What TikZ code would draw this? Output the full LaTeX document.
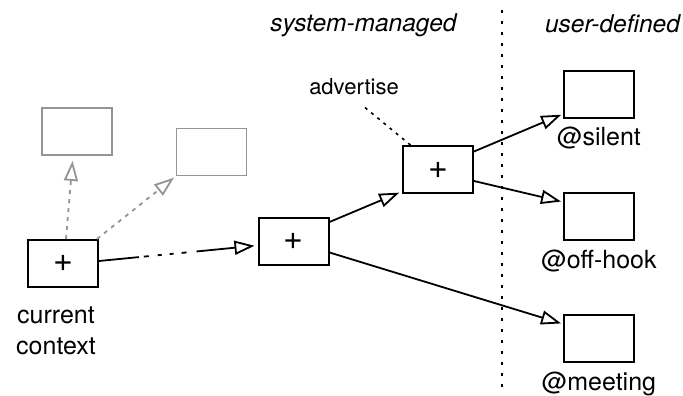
\documentclass[tikz,border=0pt]{standalone}
\usepackage{fontspec}
\setmainfont{TeX Gyre Heros}
\usetikzlibrary{positioning,arrows.meta}
\definecolor{ghost}{gray}{0.58}

\begin{document}
\begin{tikzpicture}
    [x=1pt, y=1pt, font=\fontsize{25}{31}\selectfont,
    ctx/.style={draw=black, line width=2pt, minimum width=70pt,
    minimum height=47pt, inner sep=0pt, font=\fontsize{34}{36}\selectfont},
    ghostctx/.style={ctx, draw=ghost, line width=1.8pt},
    tag/.style={inner sep=0pt},
    realm/.style={inner sep=0pt, font=\fontsize{24.5}{30}\selectfont\itshape},
    hint/.style={draw=black, line width=1.6pt, dash pattern=on 3pt off 5pt},
    link/.style={draw=black, line width=1.8pt,
    -{Triangle[open, length=20pt, width=14pt]}, shorten >=2pt},
    ghostlink/.style={link, draw=ghost, dash pattern=on 4pt off 5pt},
    divider/.style={draw=black, line width=2pt, dash pattern=on 3.5pt off 7.5pt}]
    \useasboundingbox (0,0) rectangle (683,396);
    \node[ctx] (cur) at (63,132.5) {+};
    \node[ghostctx] (g1) at (77,264.5) {};
    \node[ghostctx] (g2) at (211.5,244) {};
    \node[ctx] (b2) at (293.5,154.5) {+};
    \node[ctx] (b3) at (438,226) {+};
    \node[ctx] (sb) at (599,301.5) {};
    \node[ctx] (ob) at (599,179.5) {};
    \node[ctx] (mb) at (599,57.5) {};
    \node[tag, below=19pt of cur, xshift=-7pt, align=center] (curl) {current\\context};
    \node[tag, below=27pt of sb, anchor=base] (sbl) {@silent};
    \node[tag, below=28pt of ob, anchor=base] (obl) {@off-hook};
    \node[tag, below=28pt of mb, anchor=base] (mbl) {@meeting};
    \node[realm, anchor=base] (sys) at (363.5,364) {system-managed};
    \node[realm, anchor=base] (usr) at (612.5,363) {user-defined};
    \node[tag, anchor=base, font=\fontsize{22}{26}\selectfont] (adv) at (354,301) {advertise};
    \coordinate (topmark) at (502,386);
    \coordinate (botmark) at (502,6);
    \draw[divider] (topmark) -- (botmark);
    \draw[hint] ([xshift=11pt,yshift=-12pt]adv.south) -- ([xshift=9pt]b3.north west);
    \draw[ghostlink, shorten >=5pt] ([xshift=3pt]cur.north) -- ([xshift=-4pt]g1.south);
    \draw[ghostlink] ([xshift=-2pt]cur.north east) -- (g2.south west);
    \draw[link, shorten >=3pt, dash pattern=on 40pt off 5pt on 5pt off 9pt on 4pt off 8pt
    on 4pt off 8pt on 5pt off 10pt on 200pt] ([yshift=2.5pt]cur.east) -- ([yshift=-4pt]b2.west);
    \draw[link, shorten >=3pt] ([yshift=-5pt]b2.north east) -- ([yshift=3pt]b3.south west);
    \draw[link] ([yshift=-11pt]b2.east) -- ([yshift=-10pt]mb.north west);
    \draw[link] ([yshift=-6pt]b3.north east) -- ([yshift=5pt]sb.south west);
    \draw[link] ([yshift=-11pt]b3.east) -- ([yshift=-10pt]ob.north west);
\end{tikzpicture}
\end{document}
